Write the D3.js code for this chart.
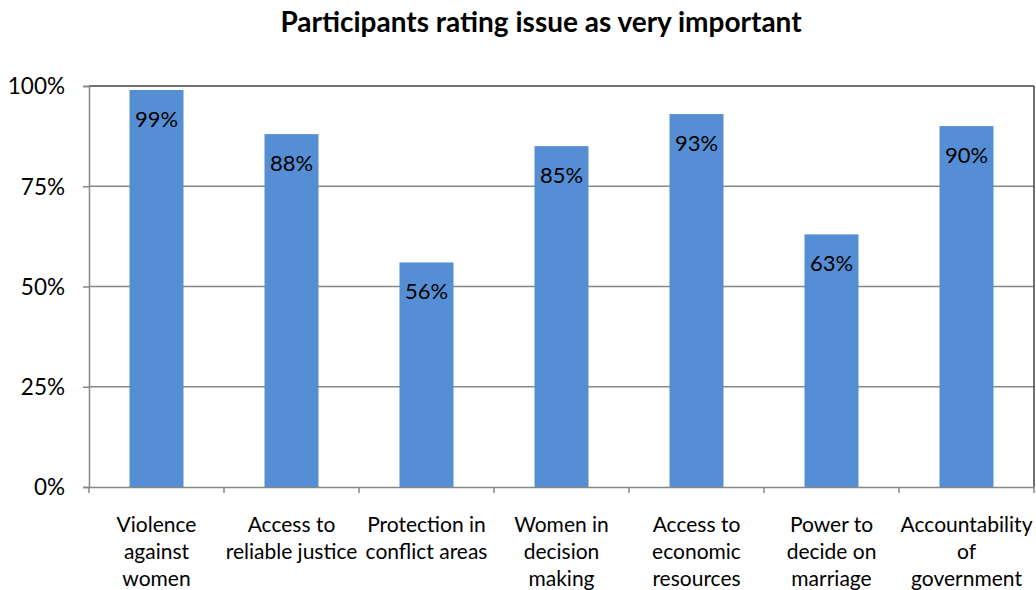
<!DOCTYPE html>
<html><head><meta charset="utf-8">
<script src="https://cdn.jsdelivr.net/npm/d3@7"></script>
<style>body{margin:0;background:#fff}svg{display:block}text{font-family:Lato,"Open Sans",sans-serif;fill:#000}</style>
</head><body>
<svg id="c" width="1036" height="590"></svg>
<script>
const categories = ["Violence against women","Access to reliable justice","Protection in conflict areas","Women in decision making","Access to economic resources","Power to decide on marriage","Accountability of government"];
const categoryLines = [["Violence","against","women"],["Access to","reliable justice"],["Protection in","conflict areas"],["Women in","decision","making"],["Access to","economic","resources"],["Power to","decide on","marriage"],["Accountability","of","government"]];
const values = [0.99,0.88,0.56,0.85,0.93,0.63,0.90];
const yTicks = [0,0.25,0.5,0.75,1];
const title = "Participants rating issue as very important";

const svg = d3.select("#c");
const L=89, R=1034, T=86, B=487;
const x = d3.scaleBand().domain(categories).range([L,R]).paddingInner(0).paddingOuter(0);
const y = d3.scaleLinear().domain([0,1]).range([B,T]);
const barW = x.step()*0.4;

svg.append("text").attr("x",541).attr("y",32).attr("text-anchor","middle")
  .style("font-weight","bold").style("font-size","28px").text(title);

// gridlines
svg.append("g").selectAll("line").data(yTicks.filter(d=>d>0&&d<1)).join("line")
  .attr("x1",L).attr("x2",R).attr("y1",d=>y(d)).attr("y2",d=>y(d))
  .attr("stroke","#878787").attr("stroke-width",1.5);
// plot border top/right
svg.append("line").attr("x1",L).attr("x2",R).attr("y1",T).attr("y2",T).attr("stroke","#404040").attr("stroke-width",1.5);
svg.append("line").attr("x1",R).attr("x2",R).attr("y1",T).attr("y2",B).attr("stroke","#404040").attr("stroke-width",1.5);

// bars
svg.append("g").selectAll("rect").data(values).join("rect")
  .attr("x",(d,i)=>x(categories[i])+(x.step()-barW)/2)
  .attr("width",barW)
  .attr("y",d=>y(d)).attr("height",d=>B-y(d))
  .attr("fill","#558ED5");

// bar labels
svg.append("g").selectAll("text").data(values).join("text")
  .attr("x",(d,i)=>x(categories[i])+x.step()/2)
  .attr("y",d=>y(d)+37)
  .attr("text-anchor","middle").style("font-size","22px")
  .text(d=>d3.format(".0%")(d));

// y axis
const yAxis = d3.axisLeft(y).tickValues(yTicks).tickFormat(d3.format(".0%")).tickSize(6).tickPadding(18);
const ya = svg.append("g").attr("transform",`translate(${L},0)`).call(yAxis);
ya.select(".domain").attr("stroke","#878787").attr("stroke-width",1.5);
ya.selectAll(".tick line").attr("stroke","#878787").attr("stroke-width",1.5);
ya.selectAll(".tick text").style("font-size","22.5px").attr("dy","0.35em").style("font-family","Lato,'Open Sans',sans-serif");

// x axis
const xAxis = d3.axisBottom(x).tickSize(0).tickFormat("");
const xa = svg.append("g").attr("transform",`translate(0,${B})`).call(xAxis);
xa.select(".domain").attr("stroke","#878787").attr("stroke-width",1.5);
xa.selectAll(".tick").remove();
const bounds = categories.map(c=>x(c)).concat([R]);
xa.selectAll("line.sep").data(bounds).join("line").attr("class","sep")
  .attr("x1",d=>d).attr("x2",d=>d).attr("y1",0).attr("y2",6)
  .attr("stroke","#878787").attr("stroke-width",1.5);

const lab = svg.append("g").selectAll("text").data(categoryLines).join("text")
  .attr("text-anchor","middle").style("font-size","21px")
  .attr("transform",(d,i)=>`translate(${x(categories[i])+x.step()/2},532)`);
lab.selectAll("tspan").data(d=>d).join("tspan")
  .attr("x",0).attr("dy",(d,j)=>j===0?0:27).text(d=>d);
</script>
</body></html>
